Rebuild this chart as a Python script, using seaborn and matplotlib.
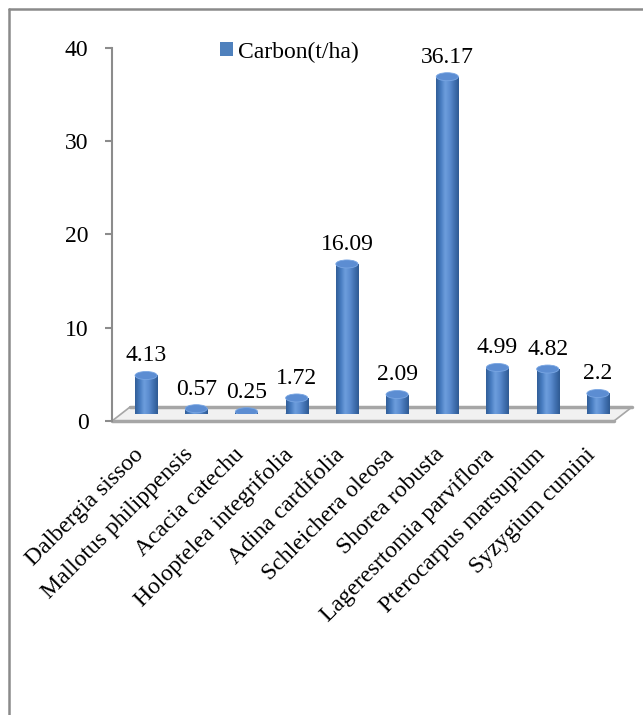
import numpy as np
import pandas as pd
import seaborn as sns
import matplotlib
matplotlib.use("Agg")
import matplotlib.pyplot as plt
from matplotlib.patches import Ellipse, Polygon, Patch
from matplotlib.lines import Line2D
from matplotlib.colors import LinearSegmentedColormap
import matplotlib.transforms as mtransforms

# ---- data ----
species = ["Dalbergia sissoo", "Mallotus philippensis", "Acacia catechu",
           "Holoptelea integrifolia", "Adina cardifolia", "Schleichera oleosa",
           "Shorea robusta", "Lageresrtomia parviflora", "Pterocarpus marsupium",
           "Syzygium cumini"]
carbon = [4.13, 0.57, 0.25, 1.72, 16.09, 2.09, 36.17, 4.99, 4.82, 2.2]
series_name = "Carbon(t/ha)"
yticks = [0, 10, 20, 30, 40]

BAR = "#4F81BD"
GRAY = "#8c8c8c"
FS = 17

sns.set_theme(style="white")
plt.rcParams["font.family"] = ["Liberation Serif", "DejaVu Serif"]
plt.rcParams["text.color"] = "black"

W, H = 643, 715
fig = plt.figure(figsize=(W / 100, H / 100), dpi=100)


def px_box(left, top, right, bottom):
    return [left / W, 1 - bottom / H, (right - left) / W, (bottom - top) / H]


# front plane axes (value axis, floor, category labels)
axA = fig.add_axes(px_box(112, 48, 614, 421))
# back plane axes for the cylinders (3D depth offset)
axB = fig.add_axes(px_box(121, 41, 623, 414))
axB.patch.set_alpha(0)

df = pd.DataFrame({"species": species, "carbon": carbon})
sns.barplot(data=df, x="species", y="carbon", ax=axB, width=0.44,
            color=BAR, saturation=1, edgecolor="none", errorbar=None)

cmap = LinearSegmentedColormap.from_list(
    "cyl", ["#315e98", "#467bbf", "#6d9edd", "#5c8dd0", "#4272b2", "#2f5a92"])
grad = np.linspace(0, 1, 64).reshape(1, -1)
ell_h = 0.86
for p in list(axB.patches):
    x0, w, h = p.get_x(), p.get_width(), p.get_height()
    p.set_zorder(2)
    bot = Ellipse((x0 + w / 2, 0), w, ell_h, facecolor="#3d6caa",
                  edgecolor="none", zorder=1.5)
    axB.add_patch(bot)
    im = axB.imshow(grad, extent=[x0, x0 + w, 0, h], aspect="auto", cmap=cmap,
                    interpolation="bicubic", zorder=3)
    im.set_clip_path(p)
    top = Ellipse((x0 + w / 2, h), w, ell_h, facecolor="#5c8dd2",
                  edgecolor="#79a6e3", linewidth=0.6, zorder=4)
    axB.add_patch(top)

axB.bar_label(axB.containers[0], labels=[f"{v:g}" for v in carbon],
              padding=6.5, fontsize=FS, color="black")
axB.set_xlim(-0.5, 9.5)
axB.set_ylim(0, 40)
axB.axis("off")

# floor (3D base)
floor = Polygon([[-0.5, 0], [9.5, 0], [9.86, 1.5], [-0.141, 1.5]], closed=True,
                facecolor="#f1f1f1", edgecolor="#a6a6a6", linewidth=1.2,
                clip_on=False, zorder=1)
axA.add_patch(floor)
axA.plot([-0.5, 9.5], [0, 0], color="#a6a6a6", lw=2.5, clip_on=False, zorder=1.2)
axA.plot([-0.141, 9.86], [1.5, 1.5], color="#a6a6a6", lw=2.5, clip_on=False, zorder=1.2)

axA.set_xlim(-0.5, 9.5)
axA.set_ylim(0, 40)
for s in ["top", "right", "bottom"]:
    axA.spines[s].set_visible(False)
axA.spines["left"].set_color(GRAY)
axA.spines["left"].set_linewidth(1.5)
axA.set_yticks(yticks)
axA.set_yticklabels([str(t) for t in yticks])
axA.tick_params(axis="y", left=True, length=5, width=1.5, color=GRAY,
                labelsize=FS, pad=12, labelcolor="black", direction="out")
axA.set_xticks(range(len(species)))
axA.set_xticklabels(species, rotation=45, ha="right", va="center",
                    rotation_mode="anchor", fontsize=FS, color="black")
axA.tick_params(axis="x", bottom=False, length=0, pad=22)
off = mtransforms.ScaledTranslation(3 / 100, 0, fig.dpi_scale_trans)
for lab in axA.get_xticklabels():
    lab.set_transform(lab.get_transform() + off)
axA.set_xlabel("")
axA.set_ylabel("")
axA.grid(False)

# legend
axA.legend(handles=[Patch(facecolor=BAR, edgecolor="none", label=series_name)],
           loc="center left", bbox_to_anchor=(220 / W, 1 - 52 / H),
           bbox_transform=fig.transFigure, frameon=False, fontsize=FS,
           handlelength=0.55, handleheight=0.55, handletextpad=0.2,
           borderpad=0, borderaxespad=0)

# chart-area frame (top and left edges visible)
fig.add_artist(Line2D([9 / W, 9 / W], [0, 1 - 9 / H], transform=fig.transFigure,
                      color="#8a8a8a", lw=1.8))
fig.add_artist(Line2D([9 / W, 1], [1 - 9 / H, 1 - 9 / H], transform=fig.transFigure,
                      color="#8a8a8a", lw=1.8))

fig.savefig("out.png", dpi=100)
